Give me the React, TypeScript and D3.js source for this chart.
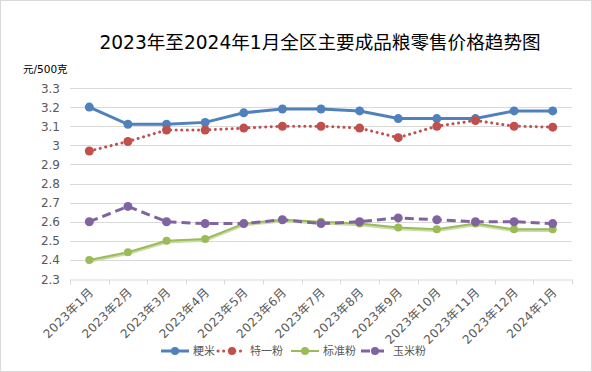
import React, { useEffect, useRef } from "react";
import * as d3 from "d3";

const months = [
  "2023年1月", "2023年2月", "2023年3月", "2023年4月", "2023年5月", "2023年6月",
  "2023年7月", "2023年8月", "2023年9月", "2023年10月", "2023年11月", "2023年12月", "2024年1月",
];
const jingmi = [3.20, 3.11, 3.11, 3.12, 3.17, 3.19, 3.19, 3.18, 3.14, 3.14, 3.14, 3.18, 3.18];
const teyifen = [2.97, 3.02, 3.08, 3.08, 3.09, 3.10, 3.10, 3.09, 3.04, 3.10, 3.13, 3.10, 3.095];
const biaozhunfen = [2.40, 2.44, 2.50, 2.51, 2.59, 2.61, 2.60, 2.59, 2.57, 2.56, 2.59, 2.56, 2.56];
const yumifen = [2.60, 2.68, 2.60, 2.59, 2.59, 2.61, 2.59, 2.60, 2.62, 2.61, 2.60, 2.60, 2.59];
const yTicks = [2.3, 2.4, 2.5, 2.6, 2.7, 2.8, 2.9, 3, 3.1, 3.2, 3.3];

const series = [
  { name: "粳米", values: jingmi, color: "#4F81BD", dash: null, width: 3 },
  { name: "特一粉", values: teyifen, color: "#C0504D", dash: "0.1 5.5", width: 3 },
  { name: "标准粉", values: biaozhunfen, color: "#9BBB59", dash: null, width: 2 },
  { name: "玉米粉", values: yumifen, color: "#8064A2", dash: "9 5", width: 3 },
];

const FONT = "'DejaVu Sans', 'Noto Sans CJK SC', sans-serif";
const CJK = "'Noto Sans CJK SC', sans-serif";

const App = () => {
  const ref = useRef<SVGSVGElement>(null);

  useEffect(() => {
    const svg = d3.select(ref.current);
    svg.selectAll("*").remove();

    const W = 592, H = 372;
    const margin = { left: 70, right: 20, top: 88, bottom: 93 };

    svg.append("rect")
      .attr("x", 0.5).attr("y", 0.5)
      .attr("width", W - 1).attr("height", H - 1)
      .attr("fill", "#fff").attr("stroke", "#d9d9d9");

    const x = d3.scaleBand().domain(months).range([margin.left, W - margin.right]);
    const y = d3.scaleLinear().domain([2.3, 3.3]).range([H - margin.bottom, margin.top]);
    const cx = (i: number) => (x(months[i]) as number) + x.bandwidth() / 2;

    // title
    svg.append("text")
      .attr("x", 320).attr("y", 49)
      .attr("text-anchor", "middle")
      .style("font-family", FONT).style("font-size", "18.6px").attr("fill", "#000")
      .text("2023年至2024年1月全区主要成品粮零售价格趋势图");

    svg.append("text")
      .attr("x", 23).attr("y", 73)
      .style("font-family", FONT).style("font-size", "10.5px").attr("fill", "#000")
      .text("元/500克");

    // grid
    svg.append("g").selectAll("line")
      .data(yTicks.slice(1))
      .enter().append("line")
      .attr("x1", margin.left).attr("x2", W - margin.right)
      .attr("y1", d => Math.round(y(d)) + 0.5).attr("y2", d => Math.round(y(d)) + 0.5)
      .attr("stroke", "#d9d9d9");

    svg.append("g").selectAll("text")
      .data(yTicks)
      .enter().append("text")
      .attr("x", 60).attr("y", d => y(d) + 4.5)
      .attr("text-anchor", "end")
      .style("font-family", FONT).style("font-size", "12px").attr("fill", "#595959")
      .text(d => String(d));

    // x axis
    const xAxis = d3.axisBottom(x).tickSizeOuter(0).tickSize(0).tickFormat(() => "");
    const gx = svg.append("g")
      .attr("transform", `translate(0, ${Math.round(y(2.3)) + 0.5})`)
      .call(xAxis);
    gx.select(".domain").attr("stroke", "#d9d9d9");
    const edges = months.map(m => x(m) as number).concat([W - margin.right]);
    gx.selectAll(".edge")
      .data(edges).enter().append("line")
      .attr("x1", d => Math.round(d) + 0.5).attr("x2", d => Math.round(d) + 0.5)
      .attr("y1", 0).attr("y2", 5)
      .attr("stroke", "#d9d9d9");

    svg.append("g").selectAll("text")
      .data(months)
      .enter().append("text")
      .attr("transform", (d, i) => `translate(${cx(i) + 5}, ${y(2.3) + 14}) rotate(-45)`)
      .attr("text-anchor", "end")
      .style("font-family", FONT).style("font-size", "12px").attr("fill", "#595959")
      .style("letter-spacing", "0.4px")
      .text(d => d);

    const line = d3.line<number>().x((d, i) => cx(i)).y(d => y(d));

    series.forEach(s => {
      const g = svg.append("g");
      if (s.name === "标准粉") {
        g.append("path")
          .attr("d", line(s.values))
          .attr("transform", "translate(0,1.5)")
          .attr("fill", "none").attr("stroke", "#c9dba6").attr("stroke-width", 2.5);
      }
      g.append("path")
        .attr("d", line(s.values))
        .attr("fill", "none")
        .attr("stroke", s.color)
        .attr("stroke-width", s.width)
        .attr("stroke-linecap", s.dash && s.dash.startsWith("0.1") ? "round" : "butt")
        .attr("stroke-dasharray", s.dash);
      g.selectAll("circle")
        .data(s.values)
        .enter().append("circle")
        .attr("cx", (d, i) => cx(i)).attr("cy", d => y(d))
        .attr("r", s.name === "标准粉" ? 4 : 4.5)
        .attr("fill", s.color);
    });

    // legend
    const legendX = [161, 218, 291, 361];
    const ly = 351;
    series.forEach((s, i) => {
      const g = svg.append("g").attr("transform", `translate(${legendX[i]}, ${ly})`);
      g.append("line")
        .attr("x1", 0).attr("x2", 28).attr("y1", 0).attr("y2", 0)
        .attr("stroke", s.color).attr("stroke-width", s.width)
        .attr("stroke-linecap", s.dash && s.dash.startsWith("0.1") ? "round" : "butt")
        .attr("stroke-dasharray", s.dash);
      g.append("circle").attr("cx", 14).attr("cy", 0).attr("r", 4).attr("fill", s.color);
      g.append("text")
        .attr("x", 32).attr("y", 4)
        .style("font-family", CJK).style("font-size", "11px").attr("fill", "#595959")
        .text(s.name);
    });
  }, []);

  return (
    <svg ref={ref} width={592} height={372}
      style={{ position: "absolute", left: 0, top: 0, background: "#fff" }} />
  );
};

export default App;
